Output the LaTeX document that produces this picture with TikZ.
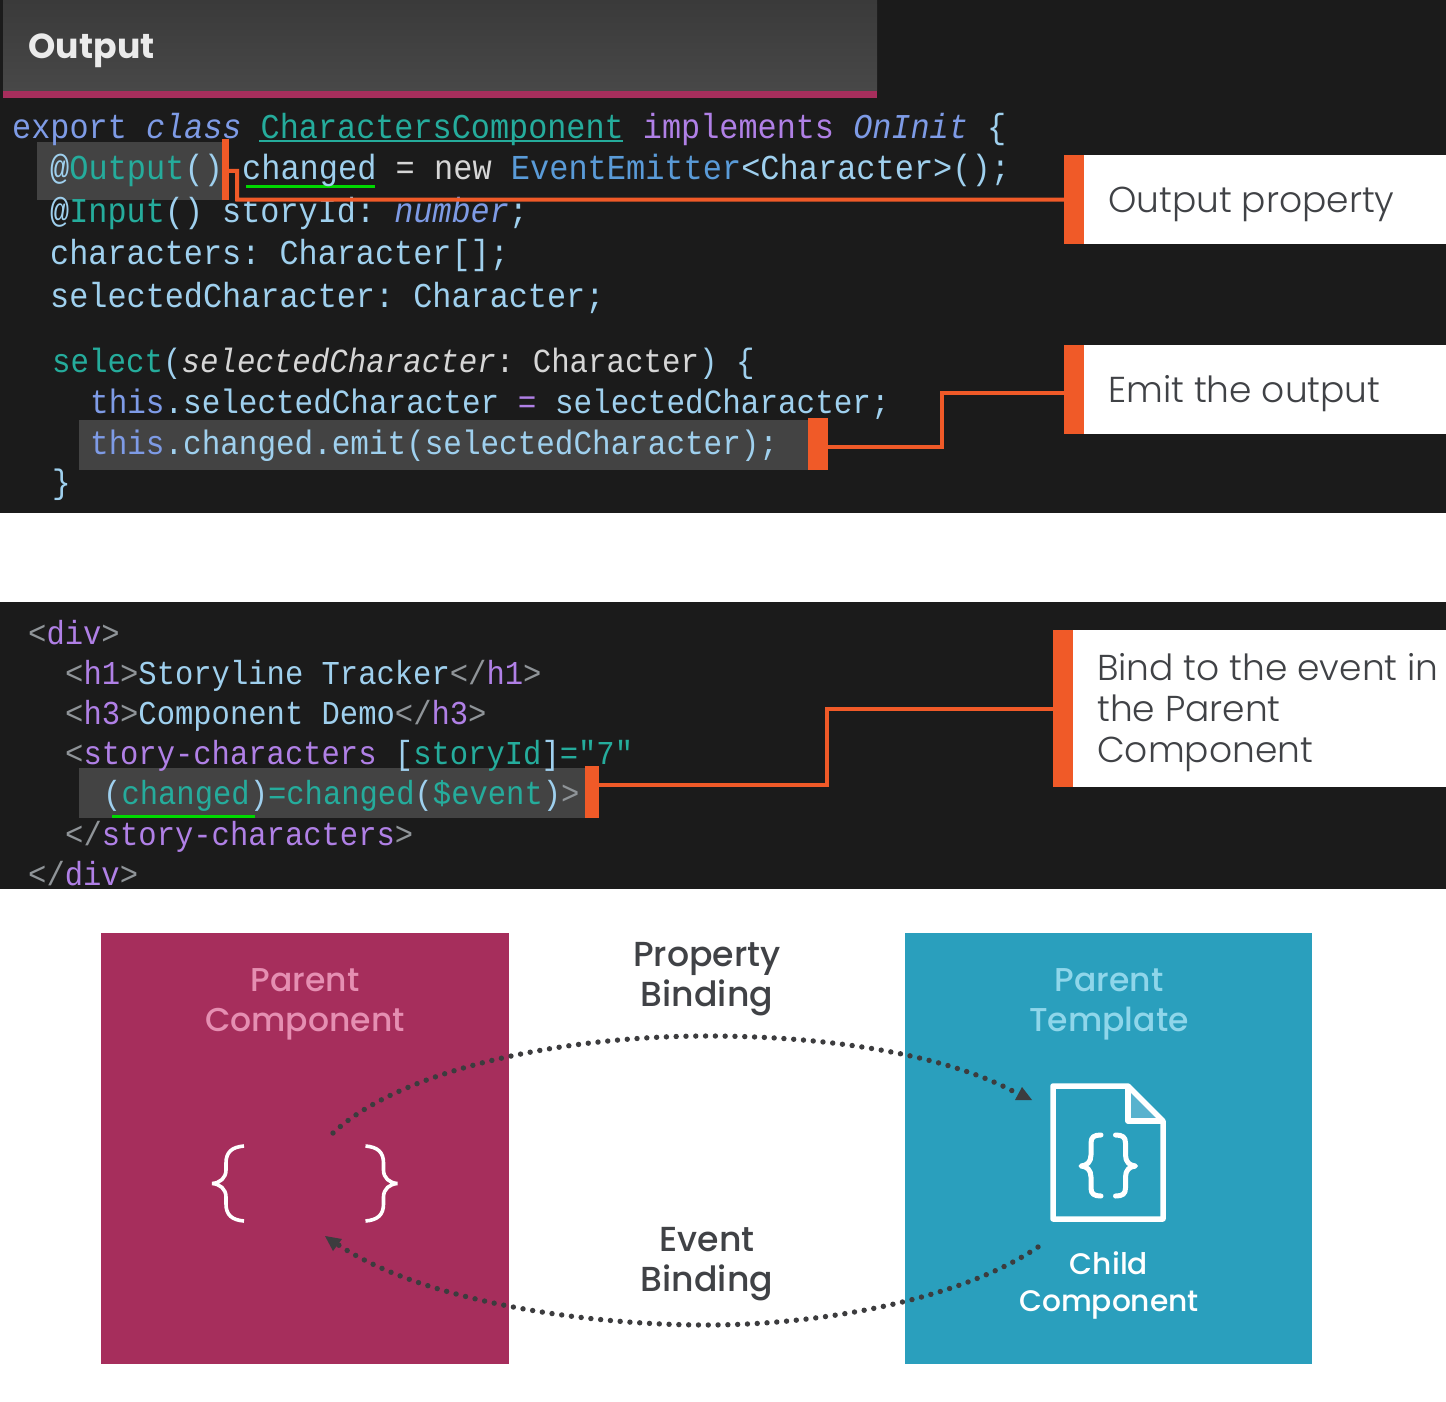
\documentclass[tikz,border=0pt]{standalone}
\usepackage{fontspec}
\usepackage{xcolor}
\setmainfont{Poppins}
\newfontfamily\codef[FakeStretch=0.914]{Liberation Mono}
\newfontfamily\lightf{Poppins Light}
\newfontfamily\medf{Poppins Medium}
\definecolor{ink}{HTML}{1B1B1B}
\definecolor{orng}{HTML}{F05A28}
\definecolor{mag}{HTML}{A62E5C}
\definecolor{teal2}{HTML}{2A9FBD}
\definecolor{hl}{HTML}{434343}
\definecolor{pl}{HTML}{9FD0EE}
\definecolor{kw}{HTML}{7E9BE6}
\definecolor{tl}{HTML}{25AC9C}
\definecolor{pu}{HTML}{B080E6}
\definecolor{ty}{HTML}{5A9BD8}
\definecolor{gy}{HTML}{8F9498}
\definecolor{pa}{HTML}{D6D6D6}
\definecolor{lab}{HTML}{404246}
\definecolor{dot}{HTML}{3C3C3E}
\definecolor{HDRa}{HTML}{3A3A3A}
\definecolor{HDRb}{HTML}{484848}
\definecolor{PINK}{HTML}{E58FB2}
\definecolor{SKY}{HTML}{8FD6EA}
\definecolor{FOLD}{HTML}{58B2CE}
\newcommand{\cc}[2]{\textcolor{#1}{#2}}
\tikzset{
  code/.style={anchor=base west,inner sep=0pt,font={\codef\frenchspacing\fontsize{35}{40}\selectfont},text=pl},
  codea/.style={anchor=base west,inner sep=0pt,font={\codef\frenchspacing\fontsize{34.85}{40}\selectfont},text=pl},
  codec/.style={anchor=base west,inner sep=0pt,font={\codef\frenchspacing\fontsize{33.9}{40}\selectfont},text=pl},
  codeb/.style={anchor=base west,inner sep=0pt,font={\codef\frenchspacing\fontsize{33.4}{40}\selectfont},text=pl},
  bar/.style={fill=orng,draw=none,inner sep=0pt,anchor=north west},
  conn/.style={draw=orng,line width=4pt},
  callout/.style={anchor=base west,inner sep=0pt,align=left,text=lab,font={\lightf\fontsize{36}{41}\selectfont}},
  head/.style={inner sep=0pt,align=center,font={\medf\fontsize{33}{40}\selectfont}},
  dots/.style={draw=dot,line width=5.4pt,line cap=round,dash pattern=on 0pt off 9.8pt},
  tip/.style={fill=dot,draw=none},
}
\begin{document}
\begin{tikzpicture}[x=1pt,y=-1pt]
\useasboundingbox (0,0) rectangle (1446,1402);
\fill[white] (0,0) rectangle (1446,1402);
% code panels
\fill[ink] (0,0) rectangle (1446,513);
\fill[ink] (0,602) rectangle (1446,889);
% title
\shade[top color=HDRa,bottom color=HDRb] (3,0) rectangle (877,91);
\fill[mag] (3,91) rectangle (877,98);
\node[inner sep=0pt,anchor=base west,text=white!92!black,font={\bfseries\fontsize{34.7}{40}\selectfont}] (title) at (28.5,59) {Output};
% highlights
\fill[hl] (37,142) rectangle (222,200);
\fill[hl] (79,420) rectangle (808,470);
\fill[hl] (79,768) rectangle (585,818);
% underlines
\fill[tl] (259,140) rectangle (623,142.5);
\fill[green!85!black] (246,184.5) rectangle (375,188);
\fill[green!85!black] (112,814.5) rectangle (255,818);
% code block 1
\node[codea] (l1) at (12,139) {\cc{kw}{export} \cc{kw}{\itshape class} \cc{tl}{CharactersComponent} \cc{pu}{implements} \cc{kw}{\itshape OnInit} \{};
\node[code] (l2) at (50,179) {@\cc{tl}{Output}() changed \cc{pa}{=} \cc{pa}{new} \cc{ty}{EventEmitter}<Character>();};
\node[codea] (l3) at (50,222) {@\cc{tl}{Input}() storyId: \cc{kw}{\itshape number};};
\node[codea] (l4) at (50,264) {characters: Character[];};
\node[codea] (l5) at (50,307) {selectedCharacter: Character;};
\node[codec,font={\codef\frenchspacing\fontsize{33.7}{40}\selectfont}] (l6) at (52,372) {\cc{tl}{select}(\cc{pa}{\itshape selectedCharacter}\cc{pa}{: Character}) \{};
\node[codec] (l7) at (90,413.5) {\cc{kw}{this}.selectedCharacter \cc{pu}{=} selectedCharacter;};
\node[codec] (l8) at (90,454) {\cc{kw}{this}.changed.emit(selectedCharacter);};
\node[codec] (l9) at (52,493) {\}};
% code block 2
\node[codeb] (m1) at (28,644) {\cc{gy}{<}\cc{pu}{div}\cc{gy}{>}};
\node[codeb] (m2) at (65,684) {\cc{gy}{<}\cc{pu}{h1}\cc{gy}{>}Storyline Tracker\cc{gy}{</}\cc{pu}{h1}\cc{gy}{>}};
\node[codeb] (m3) at (65,724) {\cc{gy}{<}\cc{pu}{h3}\cc{gy}{>}Component Demo\cc{gy}{</}\cc{pu}{h3}\cc{gy}{>}};
\node[codeb] (m4) at (65,764) {\cc{gy}{<}\cc{pu}{story-characters} [\cc{tl}{storyId}]\cc{tl}{="7"}};
\node[codeb] (m5) at (103,804) {(\cc{tl}{changed})\cc{tl}{=changed}(\cc{tl}{\$event})\cc{gy}{>}};
\node[codeb] (m6) at (65,845) {\cc{gy}{</}\cc{pu}{story-characters}\cc{gy}{>}};
\node[codeb] (m7) at (28,885) {\cc{gy}{</}\cc{pu}{div}\cc{gy}{>}};
% callouts
\fill[white] (1084,155) rectangle (1446,244);
\fill[white] (1083,345) rectangle (1446,434);
\fill[white] (1073,630) rectangle (1446,787);
\node[bar,minimum width=20pt,minimum height=89pt] (b1) at (1064,155) {};
\node[bar,minimum width=20pt,minimum height=89pt] (b2) at (1064,345) {};
\node[bar,minimum width=20pt,minimum height=157pt] (b3) at (1053,630) {};
\node[bar,minimum width=6.5pt,minimum height=61pt] (t1) at (222,139) {};
\node[bar,minimum width=20pt,minimum height=52pt] (t2) at (808,418) {};
\node[bar,minimum width=14pt,minimum height=52pt] (t3) at (585,766) {};
\node[callout] (c1) at (1108,212) {Output property};
\node[callout] (c2) at (1108,402) {Emit the output};
\node[callout] (c3) at (1097,762) {Bind to the event in\\the Parent\\Component};
\coordinate (j1a) at (237,199.5);
\coordinate (j1b) at (237,171);
\coordinate (j2a) at (942,447);
\coordinate (j2b) at (942,393);
\coordinate (j3a) at (827,785);
\coordinate (j3b) at (827,709);
\draw[conn] (b1.west) -- (j1a) -- (j1b) -- (t1.east |- j1b);
\draw[conn] (t2.east |- j2a) -- (j2a) -- (j2b) -- (b2.west |- j2b);
\draw[conn] (t3.east |- j3a) -- (j3a) -- (j3b) -- (b3.west |- j3b);
% bottom
\fill[mag] (101,933) rectangle (509,1364);
\fill[teal2] (905,933) rectangle (1312,1364);
\node[head,text=PINK] (p1) at (305,1004) {Parent\\Component};
\node[head,text=SKY] (p2) at (1109,1004) {Parent\\Template};
\node[head,text=lab,font={\medf\fontsize{34.7}{40}\selectfont}] (p3) at (707,979) {Property\\Binding};
\node[head,text=lab,font={\medf\fontsize{34.7}{40}\selectfont}] (p4) at (707,1264) {Event\\Binding};
\node[head,text=white,font={\medf\fontsize{29.7}{37}\selectfont}] (p5) at (1109,1285.5) {Child\\Component};
% big braces
\foreach \s/\o in {1/0,-1/609.5}{
\draw[white,line width=3.6pt,line join=bevel] (\s*244+\o,1146) .. controls (\s*232+\o,1147) and (\s*226+\o,1152) .. (\s*226+\o,1163) -- (\s*226+\o,1170) .. controls (\s*226+\o,1178) and (\s*220+\o,1183) .. (\s*212+\o,1183.5) .. controls (\s*220+\o,1184) and (\s*226+\o,1189) .. (\s*226+\o,1197) -- (\s*226+\o,1204) .. controls (\s*226+\o,1215) and (\s*232+\o,1220) .. (\s*244+\o,1221);
}
% file icon
\fill[FOLD] (1129,1088) -- (1129,1120) -- (1163,1120) -- cycle;
\draw[white,line width=5.5pt,line join=round] (1053,1086) -- (1128,1086) -- (1163,1121) -- (1163,1219) -- (1053,1219) -- cycle;
\draw[white,line width=5.5pt,line join=round] (1128,1086) -- (1128,1121) -- (1163,1121);
\foreach \s/\o in {1/0,-1/2216.5}{
\draw[white,line width=5pt,line cap=round,line join=round] (\s*1101+\o,1135) .. controls (\s*1094+\o,1135) and (\s*1091+\o,1137) .. (\s*1091+\o,1143) -- (\s*1091+\o,1155) .. controls (\s*1091+\o,1162) and (\s*1087+\o,1165.5) .. (\s*1081+\o,1166) .. controls (\s*1087+\o,1166.5) and (\s*1091+\o,1170) .. (\s*1091+\o,1177) -- (\s*1091+\o,1188) .. controls (\s*1091+\o,1194) and (\s*1094+\o,1196) .. (\s*1101+\o,1196);
}
% dotted arcs
\coordinate (a1) at (333,1133);
\coordinate (a2) at (1020,1095);
\coordinate (a3) at (1038,1247);
\coordinate (a4) at (337,1244);
\draw[dots] (a1) .. controls (400,1070) and (560,1036) .. (707,1036) .. controls (830,1036) and (950,1055) .. (a2);
\draw[dots] (a3) .. controls (960,1300) and (820,1325) .. (707,1325) .. controls (580,1325) and (420,1300) .. (a4);
\fill[tip] (1015,1100) -- (1032,1100) -- (1022,1087) -- cycle;
\fill[tip] (325,1236) -- (342,1239) -- (333,1251) -- cycle;
\end{tikzpicture}
\end{document}
